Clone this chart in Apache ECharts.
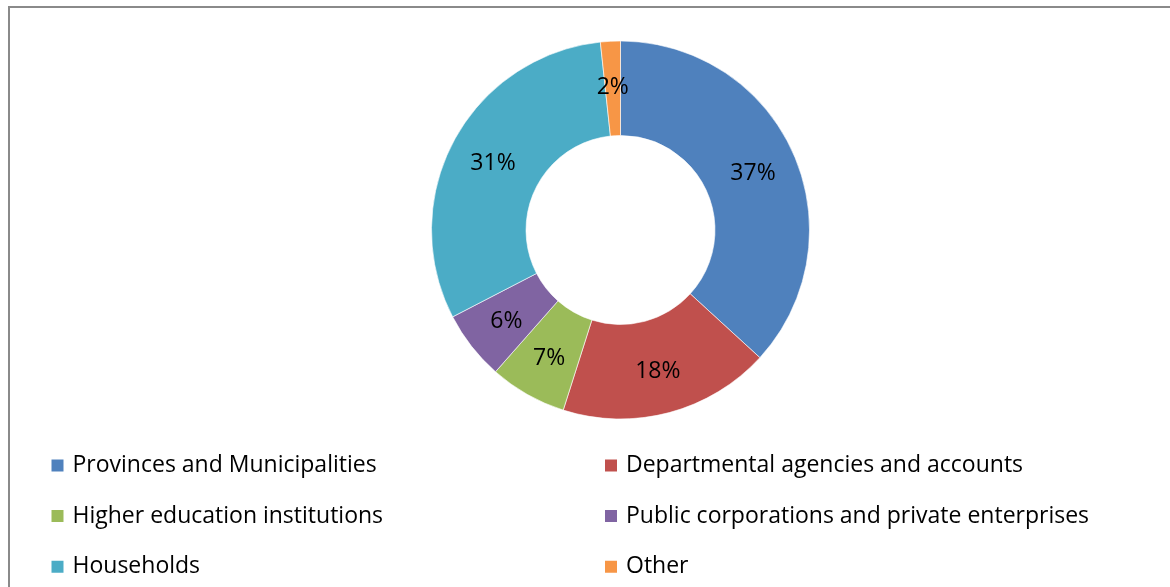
<!DOCTYPE html>
<html>
<head>
<meta charset="utf-8">
<style>
  html, body { margin: 0; padding: 0; background: #fff; }
  #chart { width: 1170px; height: 587px; }
</style>
<script src="https://cdn.jsdelivr.net/npm/echarts@6/dist/echarts.min.js"></script>
</head>
<body>
<div id="chart"></div>
<script>
// Share of funding by sector (percent)
const categories = [
  'Provinces and Municipalities',
  'Departmental agencies and accounts',
  'Higher education institutions',
  'Public corporations and private enterprises',
  'Households',
  'Other'
];
const shares = [36.8, 18.1, 6.6, 5.9, 30.9, 1.7];
const colors = ['#4F81BD', '#C0504D', '#9BBB59', '#8064A2', '#4BACC6', '#F79646'];

const FONT = '"Open Sans", "Noto Sans", sans-serif';

const chart = echarts.init(document.getElementById('chart'), null, { renderer: 'canvas' });

const legendText = { fontFamily: FONT, fontSize: 23, color: '#000', lineHeight: 23, padding: [0, 0, 0, 3] };

// Legend laid out as two columns of three entries
function legendColumn(names, left) {
  return {
    data: names,
    orient: 'vertical',
    left: left, top: 454,
    height: 200,
    padding: 0,
    itemWidth: 14, itemHeight: 14, itemGap: 27.6,
    icon: 'rect',
    textStyle: legendText,
    selectedMode: false
  };
}

chart.setOption({
  animation: false,
  color: colors,
  graphic: [{
    type: 'rect',
    shape: { x: 9, y: 7, width: 1200, height: 620 },
    style: { fill: null, stroke: '#8a8a8a', lineWidth: 2 },
    silent: true
  }],
  legend: [
    legendColumn([categories[0], categories[2], categories[4]], 49.5),
    legendColumn([categories[1], categories[3], categories[5]], 603)
  ],
  series: [{
    type: 'pie',
    center: [620.5, 230],
    radius: [94.5, 189],
    startAngle: 90,
    clockwise: true,
    avoidLabelOverlap: false,
    itemStyle: { borderColor: '#ffffff', borderWidth: 0.6 },
    label: {
      show: true,
      position: 'inside',
      formatter: p => Math.round(p.value) + '%',
      fontFamily: FONT,
      fontSize: 23,
      color: '#000',
      offset: [0, 2]
    },
    labelLine: { show: false },
    emphasis: { disabled: true },
    data: categories.map((name, i) => ({ name, value: shares[i] }))
  }]
});
</script>
</body>
</html>
